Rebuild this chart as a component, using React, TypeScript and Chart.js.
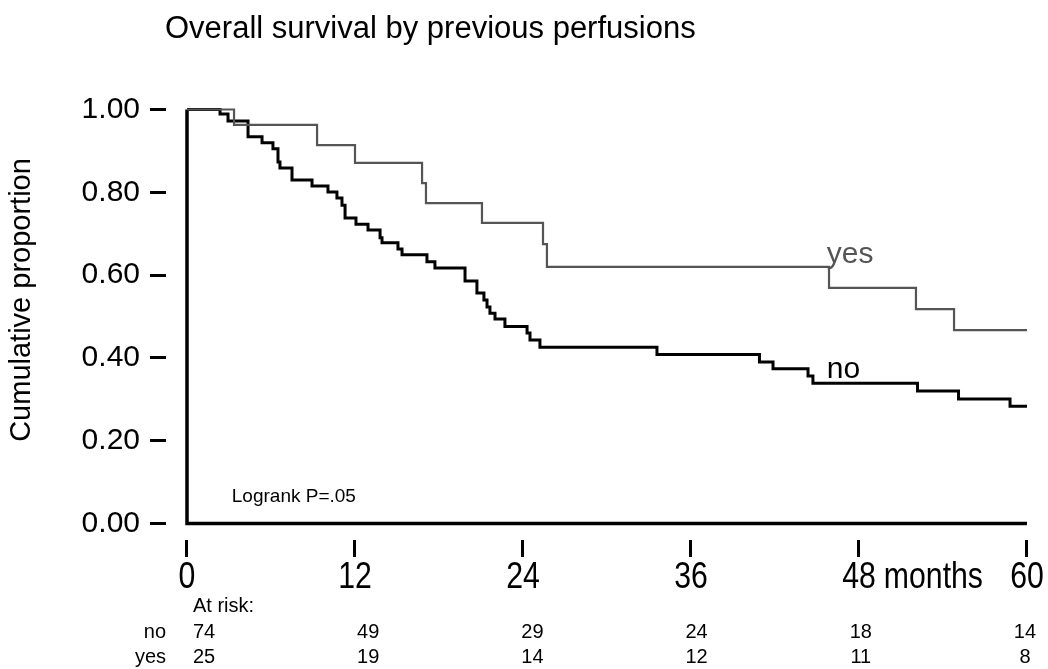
import { useEffect, useRef } from "react";
import { Chart, registerables } from "chart.js";

Chart.register(...registerables);

// Kaplan–Meier estimates: month of each drop and the survival proportion after it
const noMonths = [
  0, 2.36, 2.93, 4.36, 5.36, 6.14, 6.5, 6.64, 7.5, 8.93, 10.07, 10.71, 11.07, 11.29,
  12.07, 12.93, 13.79, 13.93, 15.07, 15.36, 17.14, 17.71, 19.86, 20.71, 21.21, 21.43,
  21.64, 22.0, 22.71, 24.29, 24.5, 25.21, 33.57, 40.89, 41.86, 44.36, 44.71, 52.18,
  55.11, 58.79, 60,
];
const noSurvival = [
  1, 0.989, 0.972, 0.934, 0.92, 0.905, 0.873, 0.859, 0.83, 0.815, 0.801, 0.786, 0.769,
  0.738, 0.723, 0.709, 0.69, 0.678, 0.663, 0.649, 0.632, 0.617, 0.586, 0.557, 0.54,
  0.523, 0.508, 0.494, 0.476, 0.46, 0.443, 0.426, 0.408, 0.39, 0.374, 0.356, 0.339,
  0.32, 0.301, 0.283, 0.283,
];
const yesMonths = [0, 3.36, 9.29, 12.0, 16.79, 17.07, 21.07, 25.43, 25.71, 45.86, 52.07, 54.79, 60];
const yesSurvival = [1, 0.963, 0.914, 0.871, 0.822, 0.774, 0.726, 0.675, 0.62, 0.569, 0.518, 0.467, 0.467];

const monthTicks = [0, 12, 24, 36, 48, 60];
const monthTickLabels = ["0", "12", "24", "36", "48", "60"];
const proportionTicks = [0, 0.2, 0.4, 0.6, 0.8, 1.0];
const atRiskNo = [74, 49, 29, 24, 18, 14];
const atRiskYes = [25, 19, 14, 12, 11, 8];

const BLACK = "#000000";
const GREY = "#555555";
const SANS = "'Liberation Sans', Arial, Helvetica, sans-serif";
// month labels are set in a condensed face: regular sans squeezed horizontally
const MONTH_FONT_SIZE = 36;
const MONTH_SQUEEZE = 0.84;

const toPoints = (xs: number[], ys: number[]) => xs.map((x, i) => ({ x, y: ys[i] }));

function squeezedText(ctx: CanvasRenderingContext2D, text: string, x: number, y: number, align: CanvasTextAlign) {
  ctx.save();
  ctx.translate(x, y);
  ctx.scale(MONTH_SQUEEZE, 1);
  ctx.textAlign = align;
  ctx.fillText(text, 0, 0);
  ctx.restore();
}

export default function App() {
  const canvasRef = useRef<HTMLCanvasElement>(null);

  useEffect(() => {
    const canvas = canvasRef.current;
    if (!canvas) return;

    const decorations = {
      id: "kmDecorations",
      beforeDatasetsDraw(chart: any) {
        const { ctx, scales } = chart;
        const x = scales.x;
        const y = scales.y;
        // heavy L-shaped frame along month 0 and proportion 0
        ctx.save();
        ctx.strokeStyle = BLACK;
        ctx.lineWidth = 3.5;
        ctx.lineJoin = "miter";
        ctx.beginPath();
        ctx.moveTo(x.getPixelForValue(0), y.getPixelForValue(1));
        ctx.lineTo(x.getPixelForValue(0), y.getPixelForValue(0));
        ctx.lineTo(x.getPixelForValue(60), y.getPixelForValue(0));
        ctx.stroke();
        ctx.restore();
      },
      afterDraw(chart: any) {
        const { ctx, scales } = chart;
        const x = scales.x;
        const y = scales.y;
        const px = (m: number) => x.getPixelForValue(m);
        const py = (p: number) => y.getPixelForValue(p);
        ctx.save();

        // title
        ctx.fillStyle = BLACK;
        ctx.font = `31px ${SANS}`;
        ctx.textAlign = "left";
        ctx.textBaseline = "alphabetic";
        ctx.fillText("Overall survival by previous perfusions", 165, 38);

        // curve labels
        ctx.font = `30px ${SANS}`;
        ctx.fillStyle = GREY;
        ctx.fillText("yes", px(45.7), py(0.63));
        ctx.fillStyle = BLACK;
        ctx.fillText("no", px(45.7), py(0.352));

        // test result
        ctx.font = `19px ${SANS}`;
        ctx.textBaseline = "middle";
        ctx.fillText("Logrank P=.05", px(3.2), py(0.064));

        // month tick labels, with the unit after 48
        ctx.font = `${MONTH_FONT_SIZE}px ${SANS}`;
        const labelY = x.top + 17 + 0.6 * MONTH_FONT_SIZE - 1;
        x.ticks.forEach((t: any, i: number) => {
          squeezedText(ctx, monthTickLabels[i], px(t.value), labelY, "center");
        });
        const half48 = (ctx.measureText("48").width * MONTH_SQUEEZE) / 2;
        squeezedText(ctx, "months", px(48) + half48 + 8, labelY, "left");

        // numbers at risk
        const left = px(0);
        const right = px(60);
        ctx.font = `20px ${SANS}`;
        ctx.textAlign = "left";
        ctx.fillText("At risk:", left + 6, 606);
        ctx.textAlign = "right";
        ctx.fillText("no", y.right, 632);
        ctx.fillText("yes", y.right, 657);
        ctx.textAlign = "center";
        const colX = (i: number) => left + 17 + ((right - 2 - (left + 17)) * monthTicks[i]) / 60;
        atRiskNo.forEach((n, i) => ctx.fillText(String(n), colX(i), 632));
        atRiskYes.forEach((n, i) => ctx.fillText(String(n), colX(i), 657));

        ctx.restore();
      },
    };

    const chart = new Chart(canvas, {
      type: "line",
      data: {
        datasets: [
          {
            label: "yes",
            data: toPoints(yesMonths, yesSurvival),
            borderColor: GREY,
            borderWidth: 2.2,
            stepped: true,
            pointRadius: 0,
            fill: false,
          },
          {
            label: "no",
            data: toPoints(noMonths, noSurvival),
            borderColor: BLACK,
            borderWidth: 3,
            stepped: true,
            pointRadius: 0,
            fill: false,
          },
        ],
      },
      options: {
        responsive: false,
        animation: false,
        events: [],
        layout: { autoPadding: false, padding: { top: 60, right: 8, bottom: 0, left: 0 } },
        plugins: {
          legend: { display: false },
          tooltip: { enabled: false },
          title: { display: false },
        },
        scales: {
          x: {
            type: "linear",
            min: -1.5,
            max: 60.93,
            afterBuildTicks: (scale: any) => {
              scale.ticks = monthTicks.map((v) => ({ value: v }));
            },
            afterFit: (scale: any) => {
              scale.height = 129;
            },
            border: { display: false },
            grid: {
              drawOnChartArea: false,
              drawTicks: true,
              tickLength: 17,
              color: BLACK,
              lineWidth: 3,
            },
            ticks: { display: false },
          },
          y: {
            type: "linear",
            min: -0.0399,
            max: 1.1196,
            afterBuildTicks: (scale: any) => {
              scale.ticks = proportionTicks.map((v) => ({ value: v }));
            },
            afterFit: (scale: any) => {
              scale.width = 166;
            },
            border: { display: false },
            grid: {
              drawOnChartArea: false,
              drawTicks: true,
              tickLength: 16,
              color: BLACK,
              lineWidth: 3,
            },
            ticks: {
              color: BLACK,
              padding: 10,
              autoSkip: false,
              font: { family: SANS, size: 30 },
              callback: (v: any) => Number(v).toFixed(2),
            },
            title: {
              display: true,
              text: "Cumulative proportion",
              color: BLACK,
              font: { family: SANS, size: 29 },
              padding: { top: 5, bottom: 0 },
            },
          },
        },
      },
      plugins: [decorations],
    });

    return () => chart.destroy();
  }, []);

  return (
    <div style={{ position: "fixed", left: 0, top: 0, width: 1048, height: 669, background: "#ffffff" }}>
      <canvas ref={canvasRef} width={1048} height={669} style={{ display: "block" }} />
    </div>
  );
}
